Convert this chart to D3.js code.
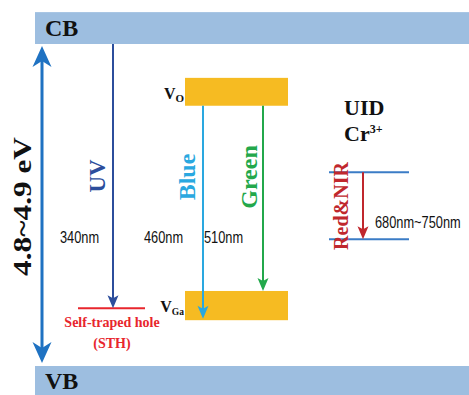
<!DOCTYPE html>
<html><head><meta charset="utf-8">
<script src="https://cdn.jsdelivr.net/npm/d3@7"></script>
<style>html,body{margin:0;padding:0;background:#fff;overflow:hidden}</style>
</head><body><svg id="c" width="469" height="395"></svg>
<script>
// Energies in eV, measured from the valence-band maximum
const bandNames = ["CB", "VB"];
const bandLo = [4.85, -0.44];
const bandHi = [5.33, 0];

const defectNames = ["O", "Ga"];          // V_O, V_Ga
const defectLo = [3.92, 0.69];
const defectHi = [4.34, 1.13];

const sthLevel = 0.87;
const sthLabel = ["Self-traped hole", "(STH)"];

const crLevels = [2.92, 1.91];
const crLabel = ["UID", "Cr"];

const emissionNames = ["UV", "Blue", "Green", "Red&NIR"];
const emissionNm = ["340nm", "460nm", "510nm", "680nm~750nm"];
const emissionFrom = [4.85, 3.92, 3.92, 2.92];
const emissionTo = [0.87, 0.71, 1.13, 1.91];

const gapLabel = "4.8~4.9 eV";

const W = 469, H = 395;
const svg = d3.select("#c");

const y = d3.scaleLinear().domain([0, 4.85]).range([366, 44]);

const serif = "'Liberation Serif','Times New Roman',serif";
const sans = "'Liberation Sans',Arial,sans-serif";

const col = {
  band: "#9dbee0", defect: "#f6bb22", gap: "#1f72c2",
  UV: "#2c4e9c", Blue: "#2aa8e0", Green: "#23a84b", "Red&NIR": "#c0272d",
  sth: "#e8262d", cr: "#3b7cc6"
};

// notched arrowhead with its tip at (x, yTip); dir = +1 pointing down, -1 up
function head(x, yTip, dir, len, hw, notch) {
  const p = d3.path();
  p.moveTo(x, yTip);
  p.lineTo(x - hw, yTip - dir * len);
  p.lineTo(x, yTip - dir * (len - notch));
  p.lineTo(x + hw, yTip - dir * len);
  p.closePath();
  return p.toString();
}

// conduction and valence bands
bandNames.forEach((n, i) => {
  svg.append("rect").attr("x", 35).attr("width", W - 35)
    .attr("y", y(bandHi[i])).attr("height", y(bandLo[i]) - y(bandHi[i]))
    .attr("fill", col.band);
  svg.append("text").attr("x", 45).attr("y", (y(bandHi[i]) + y(bandLo[i])) / 2 + 8)
    .attr("font-family", serif).attr("font-weight", "bold").attr("font-size", 24)
    .attr("fill", "#111").text(n);
});

// band gap double arrow
{
  const gx = 42, top = y(bandLo[0]) + 2, bot = y(bandHi[1]) - 3;
  svg.append("line").attr("x1", gx).attr("x2", gx).attr("y1", top + 10).attr("y2", bot - 10)
    .attr("stroke", col.gap).attr("stroke-width", 3);
  svg.append("path").attr("d", head(gx, top, -1, 21, 9.5, 6)).attr("fill", col.gap);
  svg.append("path").attr("d", head(gx, bot, 1, 21, 9.5, 6)).attr("fill", col.gap);
  svg.append("text").attr("transform", `translate(31,${(top + bot) / 2 + 2}) rotate(-90)`)
    .attr("text-anchor", "middle").attr("font-family", serif).attr("font-weight", "bold")
    .attr("font-size", 26).attr("textLength", 139).attr("lengthAdjust", "spacingAndGlyphs")
    .attr("fill", "#111").text(gapLabel);
}

// defect levels V_O and V_Ga
defectNames.forEach((n, i) => {
  const top = y(defectHi[i]), bot = y(defectLo[i]);
  svg.append("rect").attr("x", 185).attr("width", 103).attr("y", top).attr("height", bot - top)
    .attr("fill", col.defect);
  const t = svg.append("text").attr("x", 184).attr("y", top + 21).attr("text-anchor", "end")
    .attr("font-family", serif).attr("font-weight", "bold").attr("fill", "#111");
  t.append("tspan").attr("font-size", 16).text("V");
  t.append("tspan").attr("font-size", i === 0 ? 11 : 9.5).attr("dy", 3).text(n);
});

// self-trapped hole level
svg.append("line").attr("x1", 78).attr("x2", 145).attr("y1", y(sthLevel)).attr("y2", y(sthLevel))
  .attr("stroke", col.sth).attr("stroke-width", 2);
sthLabel.forEach((s, i) => {
  svg.append("text").attr("x", 112).attr("y", y(sthLevel) + 19 + i * 21)
    .attr("text-anchor", "middle").attr("font-family", serif).attr("font-weight", "bold")
    .attr("font-size", 14).attr("fill", col.sth).text(s);
});

// Cr3+ levels
crLevels.forEach(e => {
  svg.append("line").attr("x1", 329).attr("x2", 409).attr("y1", y(e)).attr("y2", y(e))
    .attr("stroke", col.cr).attr("stroke-width", 2);
});
svg.append("text").attr("x", 344).attr("y", 115).attr("font-family", serif)
  .attr("font-weight", "bold").attr("font-size", 22).attr("fill", "#111").text(crLabel[0]);
{
  const t = svg.append("text").attr("x", 344).attr("y", 141).attr("font-family", serif)
    .attr("font-weight", "bold").attr("font-size", 22).attr("fill", "#111");
  t.append("tspan").text(crLabel[1]);
  t.append("tspan").attr("font-size", 12).attr("dy", -8).text("3+");
}

// emission transitions
const ex = [113, 203, 263, 363];                // arrow x positions
const lx = [97, 187, 249, 341];                 // rotated label x positions
const ly = [176, 177, 177, 206];                // rotated label centres
const ls = [23, 24, 24, 20];                    // rotated label sizes
const nmx = [60, 144, 204, 375];                // wavelength label left edges
const nmy = [243, 243, 243, 228];

emissionNames.forEach((n, i) => {
  const c = col[n];
  const y1 = y(emissionFrom[i]), y2 = y(emissionTo[i]);
  svg.append("line").attr("x1", ex[i]).attr("x2", ex[i]).attr("y1", y1).attr("y2", y2 - 8)
    .attr("stroke", c).attr("stroke-width", 2);
  svg.append("path").attr("d", head(ex[i], y2, 1, 13, 5.5, 3)).attr("fill", c);
  svg.append("text").attr("transform", `translate(${lx[i]},${ly[i]}) rotate(-90)`)
    .attr("text-anchor", "middle").attr("dominant-baseline", "central")
    .attr("font-family", serif).attr("font-weight", "bold").attr("font-size", ls[i])
    .attr("fill", c).text(n);
  // horizontally condensed sans for the wavelength labels
  svg.append("text").attr("transform", `translate(${nmx[i]},${nmy[i]}) scale(0.8,1)`)
    .attr("font-family", sans).attr("font-size", 16).attr("fill", "#111").text(emissionNm[i]);
});
</script></body></html>
